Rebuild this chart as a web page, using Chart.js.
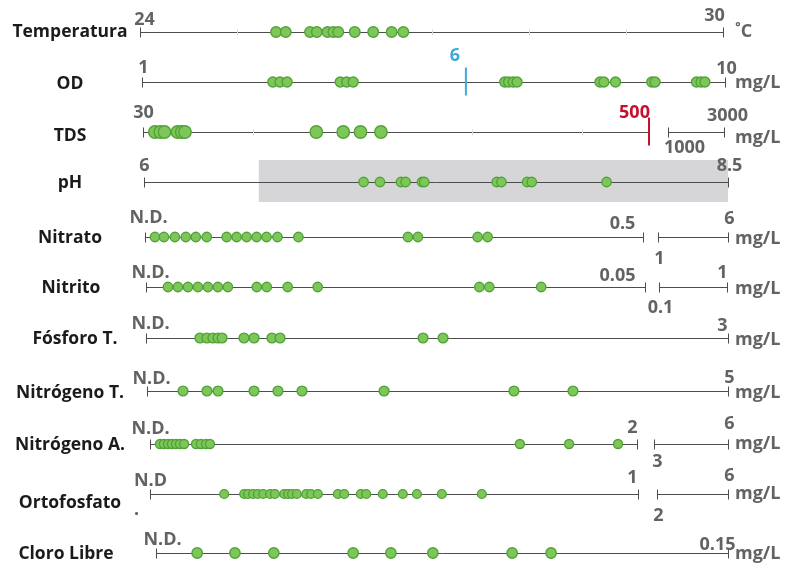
<!DOCTYPE html>
<html>
<head>
<meta charset="utf-8">
<title>Calidad del agua</title>
<script src="https://cdn.jsdelivr.net/npm/chart.js@4.4.1/dist/chart.umd.min.js"></script>
<style>
  html, body { margin: 0; padding: 0; background: #fff; overflow: hidden; }
  canvas { display: block; }
</style>
</head>
<body>
<canvas id="chart" width="789" height="564"></canvas>
<script>
// parámetros y valores medidos (N.D. = 0)
const rowNames = ["Temperatura", "OD", "TDS", "pH", "Nitrato", "Nitrito", "Fósforo T.", "Nitrógeno T.", "Nitrógeno A.", "Ortofosfato", "Cloro Libre"];

const temperatura = [25.40, 25.50, 25.75, 25.82, 25.93, 25.99, 26.04, 26.21, 26.40, 26.59, 26.71];
const od = [3.02, 3.13, 3.24, 4.06, 4.16, 4.26, 6.60, 6.66, 6.73, 6.79, 8.07, 8.13, 8.31, 8.87, 8.92, 9.56, 9.63, 9.69];
const tds = [41, 46, 50, 62, 66, 69, 191, 216, 232, 251];
const ph = [6.94, 7.01, 7.10, 7.12, 7.19, 7.20, 7.51, 7.53, 7.64, 7.66, 7.98];
const nitrato = [0.010, 0.019, 0.030, 0.041, 0.051, 0.062, 0.082, 0.092, 0.102, 0.112, 0.122, 0.133, 0.154, 0.264, 0.274, 0.334, 0.344];
const nitrito = [0.0022, 0.0032, 0.0042, 0.0052, 0.0062, 0.0072, 0.0082, 0.0111, 0.0121, 0.0142, 0.0172, 0.0334, 0.0344, 0.0396];
const fosforo = [0.278, 0.314, 0.345, 0.371, 0.392, 0.505, 0.557, 0.649, 0.691, 1.428, 1.531];
const nitrogenoT = [0.310, 0.516, 0.611, 0.921, 1.127, 1.334, 2.040, 3.158, 3.666];
const nitrogenoA = [0.041, 0.057, 0.074, 0.090, 0.107, 0.123, 0.140, 0.189, 0.209, 0.230, 0.246, 1.519, 1.721, 1.922];
const ortofosfato = [0.152, 0.193, 0.201, 0.211, 0.221, 0.232, 0.246, 0.256, 0.275, 0.283, 0.291, 0.301, 0.320, 0.330, 0.344, 0.385, 0.398, 0.432, 0.443, 0.477, 0.518, 0.547, 0.598, 0.680];
const cloro = [0.0108, 0.0207, 0.0309, 0.0517, 0.0616, 0.0726, 0.0934, 0.1036];

// rango de cada tramo del eje (los ejes cortados tienen dos tramos)
const ranges = [
  [[24, 30]], [[1, 10]], [[30, 500], [1000, 3000]], [[6, 8.5]],
  [[0, 0.5], [1, 6]], [[0, 0.05], [0.1, 1]], [[0, 3]], [[0, 5]],
  [[0, 2], [3, 6]], [[0, 1], [2, 6]], [[0, 0.15]]
];
const tickLabels = [
  ["24", "30"], ["1", "10"], ["30", "500", "1000", "3000"], ["6", "8.5"],
  ["N.D.", "0.5", "1", "6"], ["N.D.", "0.05", "0.1", "1"], ["N.D.", "3"], ["N.D.", "5"],
  ["N.D.", "2", "3", "6"], ["N.D", "1", "2", "6"], ["N.D.", "0.15"]
];
const units = ["˚C", "mg/L", "mg/L", "", "mg/L", "mg/L", "mg/L", "mg/L", "mg/L", "mg/L", "mg/L"];
const minorTicks = [[25, 26, 27, 28, 29], [], [132, 234, 336, 438], [], [], [], [], [], [], [], []];
const limits = [{ row: 1, value: 6, label: "6", color: "#3fa9d9" }, { row: 2, value: 500, label: "", color: "#c8102e" }];
const bands = [{ row: 3, from: 6.5, to: 8.5 }];

// posiciones en pantalla
const layout = [
  { y: 32, segs: [[140, 723]], lx: 70, ly: 4, r: 5.3, uy: 4, t: [[4, -8], [-9, -12]] },
  { y: 82, segs: [[142, 725]], lx: 70, ly: 6, r: 5, uy: 5, t: [[1, -10], [1, -9]] },
  { y: 132, segs: [[143, 649], [668, 724]], lx: 70, ly: 8, r: 6.2, uy: 10, t: [[0, -15], [-15, -15, "#c8102e"], [16, 20], [3, -12]] },
  { y: 182, segs: [[144, 728]], lx: 70, ly: 5, r: 4.7, uy: 0, t: [[0, -12], [1, -12]] },
  { y: 237, segs: [[145, 643], [658, 728]], lx: 70, ly: 5, r: 4.7, uy: 6, t: [[3, -15], [-21, -9], [1, 26], [1, -14]] },
  { y: 287, segs: [[146, 645], [659, 727]], lx: 71, ly: 5, r: 4.7, uy: 6, t: [[4, -10], [-28, -7], [1, 25], [-5, -10]] },
  { y: 338, segs: [[146, 728]], lx: 75, ly: 5, r: 4.9, uy: 6, t: [[4, -10], [-6, -8]] },
  { y: 391, segs: [[147, 728]], lx: 70, ly: 6, r: 4.9, uy: 6, t: [[4, -8], [1, -9]] },
  { y: 444, segs: [[150, 637], [654, 728]], lx: 70, ly: 5, r: 4.5, uy: 4, t: [[0, -11], [-5, -12], [3, 22], [1, -16]] },
  { y: 494, segs: [[150, 638], [657, 728]], lx: 70, ly: 13, r: 4.4, uy: 4, t: [[0, -9], [-6, -12], [1, 26], [1, -14]] },
  { y: 553, segs: [[156, 728]], lx: 66, ly: 5, r: 5.2, uy: 5, t: [[6, -9], [-11, -4]] }
];

const W = 789;
const H = 564;
const nameFont = "bold 17.5px 'Open Sans'";
const tickFont = "bold 18px 'Open Sans'";
const series = [temperatura, od, tds, ph, nitrato, nitrito, fosforo, nitrogenoT, nitrogenoA, ortofosfato, cloro];

const scales = {
  y: { type: "linear", display: false, min: 0, max: H, reverse: true }
};
ranges.forEach(function(segs, i) {
  segs.forEach(function(r, j) {
    const px = layout[i].segs[j];
    const k = (r[1] - r[0]) / (px[1] - px[0]);
    const min = r[0] - px[0] * k;
    scales["x" + i + "_" + j] = { type: "linear", axis: "x", display: false, min: min, max: min + W * k };
  });
});

const datasets = series.map(function(values, i) {
  return {
    label: rowNames[i],
    data: values.map(function(v) { return { x: v, y: layout[i].y }; }),
    xAxisID: "x" + i + "_0",
    yAxisID: "y",
    pointRadius: layout[i].r,
    pointBackgroundColor: "#7dc759",
    pointBorderColor: "#52a23a",
    pointBorderWidth: 1.4,
    showLine: false,
    clip: false
  };
});

function line(ctx, x0, y0, x1, y1) {
  ctx.beginPath();
  ctx.moveTo(x0, y0);
  ctx.lineTo(x1, y1);
  ctx.stroke();
}

const stripPlugin = {
  id: "strips",
  beforeDatasetsDraw: function(chart) {
    const ctx = chart.ctx;
    const yScale = chart.scales.y;
    ctx.save();
    rowNames.forEach(function(name, i) {
      const lay = layout[i];
      const y = Math.round(yScale.getPixelForValue(lay.y)) + 0.5;
      const sc = ranges[i].map(function(r, j) { return chart.scales["x" + i + "_" + j]; });

      bands.forEach(function(b) {
        if (b.row !== i) return;
        const x0 = sc[0].getPixelForValue(b.from);
        const x1 = sc[0].getPixelForValue(b.to);
        ctx.fillStyle = "#d6d6d9";
        ctx.fillRect(x0 - 2, y - 22.5, x1 - x0 + 2, 42);
      });

      // ejes
      ctx.strokeStyle = "#4d4d4d";
      ctx.lineWidth = 1;
      const ends = [];
      ranges[i].forEach(function(r, j) {
        const a = Math.round(sc[j].getPixelForValue(r[0])) + 0.5;
        const b = Math.round(sc[j].getPixelForValue(r[1])) + 0.5;
        line(ctx, a, y, b, y);
        line(ctx, a, y - 5, a, y + 5);
        line(ctx, b, y - 5, b, y + 5);
        ends.push(a, b);
      });

      ctx.strokeStyle = "#dadada";
      minorTicks[i].forEach(function(v) {
        const x = Math.round(sc[0].getPixelForValue(v)) + 0.5;
        line(ctx, x, y - 3, x, y + 3);
      });

      // límites
      limits.forEach(function(l) {
        if (l.row !== i) return;
        const x = sc[0].getPixelForValue(l.value);
        ctx.strokeStyle = l.color;
        ctx.lineWidth = 2;
        line(ctx, x, y - 15, x, y + 13);
        if (l.label) {
          ctx.fillStyle = l.color;
          ctx.font = tickFont;
          ctx.textAlign = "center";
          ctx.textBaseline = "alphabetic";
          ctx.fillText(l.label, x - 11, y - 22);
        }
      });

      // nombre del parámetro
      ctx.fillStyle = "#1b1b1b";
      ctx.font = nameFont;
      ctx.textAlign = "center";
      ctx.textBaseline = "alphabetic";
      ctx.fillText(name, lay.lx, y + lay.ly);

      // etiquetas del eje
      ctx.font = tickFont;
      tickLabels[i].forEach(function(txt, k) {
        const pos = lay.t[k];
        const anchor = tickLabels[i].length === 2 ? ends[k === 0 ? 0 : ends.length - 1] : ends[k];
        ctx.fillStyle = pos[2] || "#636363";
        ctx.fillText(txt, anchor + pos[0], y + pos[1]);
      });
      if (name === "Ortofosfato") {
        ctx.fillStyle = "#636363";
        ctx.fillText(".", ends[0] - 14, y + 20);
      }

      if (units[i]) {
        ctx.fillStyle = "#636363";
        ctx.textAlign = "left";
        ctx.fillText(units[i], 735, y + lay.uy);
      }
    });
    ctx.restore();
  }
};

new Chart(document.getElementById("chart"), {
  type: "scatter",
  data: { datasets: datasets },
  options: {
    responsive: false,
    animation: false,
    layout: { padding: 0, autoPadding: false },
    scales: scales,
    plugins: {
      legend: { display: false },
      tooltip: { enabled: false }
    }
  },
  plugins: [stripPlugin]
});
</script>
</body>
</html>
